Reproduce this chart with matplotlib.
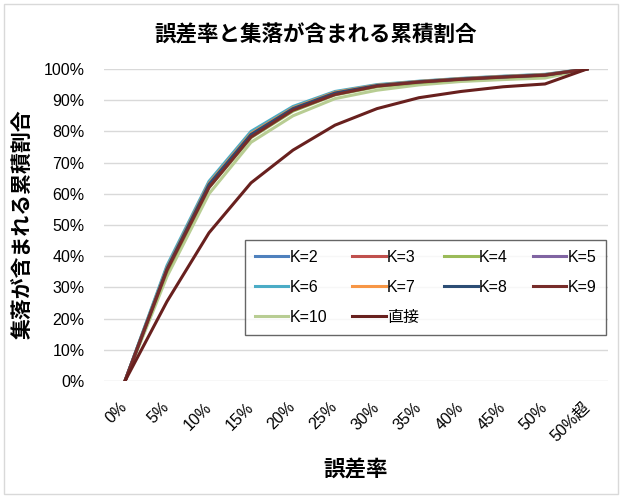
import numpy as np
import matplotlib
matplotlib.use('Agg')
import matplotlib.pyplot as plt
from matplotlib.patches import Rectangle

plt.rcParams['font.family'] = ['Liberation Sans', 'Noto Sans CJK JP']

# data (cumulative share, %)
categories = ['0%', '5%', '10%', '15%', '20%', '25%', '30%', '35%', '40%', '45%', '50%', '50%超']

k2 = [0, 36.5, 63.5, 79.5, 87.5, 92.5, 94.8, 96.0, 96.9, 97.6, 98.2, 100]
k3 = [0, 36.0, 63.0, 79.0, 87.3, 92.3, 94.7, 95.9, 96.8, 97.5, 98.1, 100]
k4 = [0, 35.0, 62.0, 78.0, 86.5, 91.7, 94.3, 95.6, 96.6, 97.3, 97.9, 100]
k5 = [0, 36.0, 63.2, 79.2, 87.4, 92.4, 94.7, 95.9, 96.8, 97.5, 98.1, 100]
k6 = [0, 37.0, 64.0, 80.0, 88.0, 92.8, 95.0, 96.1, 97.0, 97.7, 98.3, 100]
k7 = [0, 36.2, 63.3, 79.3, 87.5, 92.5, 94.8, 96.0, 96.9, 97.6, 98.2, 100]
k8 = [0, 36.0, 63.0, 79.0, 87.3, 92.3, 94.7, 95.9, 96.8, 97.5, 98.1, 100]
k9 = [0, 35.5, 62.0, 78.2, 86.8, 91.8, 94.5, 95.8, 96.7, 97.4, 98.0, 100]
k10 = [0, 33.5, 60.0, 76.5, 85.0, 90.5, 93.2, 94.9, 96.0, 96.6, 97.1, 100]
direct = [0, 25.5, 47.5, 63.5, 74.0, 82.0, 87.3, 90.8, 92.8, 94.3, 95.2, 100]

series = [
    ('K=2', k2, '#4F81BD'),
    ('K=3', k3, '#C0504D'),
    ('K=4', k4, '#9BBB59'),
    ('K=5', k5, '#8064A2'),
    ('K=6', k6, '#4BACC6'),
    ('K=7', k7, '#F79646'),
    ('K=8', k8, '#2C4D75'),
    ('K=9', k9, '#772C2A'),
    ('K=10', k10, '#B8CD93'),
    ('直接', direct, '#68201E'),
]
# drawing order: K=10 below, K=9 above the others, direct on top
draw_order = ['K=10', 'K=2', 'K=3', 'K=4', 'K=5', 'K=6', 'K=7', 'K=8', 'K=9', '直接']
# matplotlib fills legend columns first; this gives Excel's row-wise layout
legend_order = ['K=2', 'K=6', 'K=10', 'K=3', 'K=7', '直接', 'K=4', 'K=8', 'K=5', 'K=9']

fig = plt.figure(figsize=(6.22, 4.98), dpi=100)
fig.patches.append(Rectangle((4 / 622, 4 / 498), 614 / 622, 490 / 498,
                             transform=fig.transFigure, fill=False,
                             edgecolor='#D9D9D9', linewidth=1.0))
ax = fig.add_axes([104 / 622, 1 - 381 / 498, 504 / 622, 312 / 498])

x = np.arange(len(categories))
lines = {}
for name, vals, col in series:
    z = draw_order.index(name) + 2
    lines[name], = ax.plot(x, vals, color=col, lw=2.2, label=name, zorder=z)

ax.set_xlim(-0.5, len(categories) - 0.5)
ax.set_ylim(0, 100)
ax.set_yticks(np.arange(0, 101, 10))
ax.set_yticklabels([f'{v}%' for v in range(0, 101, 10)], fontsize=11.5)
ax.set_xticks(x)
ax.set_xticklabels(categories, rotation=45, ha='right', va='center', fontsize=11.5,
                   rotation_mode='anchor')
ax.tick_params(axis='both', length=0)
ax.tick_params(axis='y', pad=14)
ax.tick_params(axis='x', pad=17)
for s in ax.spines.values():
    s.set_visible(False)
ax.grid(axis='y', color='#D9D9D9', linewidth=1.0)
ax.set_axisbelow(True)

fig.text(316 / 622, 1 - 35 / 498, '誤差率と集落が含まれる累積割合', ha='center', va='center',
         fontsize=15.5, fontweight='bold', family=['Noto Sans CJK JP'])
fig.text(23 / 622, 1 - 224 / 498, '集落が含まれる累積割合', ha='center', va='center',
         rotation=90, fontsize=15, fontweight='bold', family=['Noto Sans CJK JP'])
fig.text(356 / 622, 1 - 470 / 498, '誤差率', ha='center', va='center',
         fontsize=15.5, fontweight='bold', family=['Noto Sans CJK JP'])

leg = ax.legend(handles=[lines[n] for n in legend_order], ncol=4,
                loc='upper left', bbox_to_anchor=((245 - 104) / 504, (381 - 240) / 312),
                fontsize=11.5, frameon=True, fancybox=False, handlelength=2.1,
                handletextpad=0.1, columnspacing=1.55, labelspacing=0.95,
                borderpad=0.6, borderaxespad=0)
leg.get_frame().set_edgecolor('#404040')
leg.get_frame().set_linewidth(1.0)
leg.set_zorder(20)

fig.savefig('out.png', dpi=100)
